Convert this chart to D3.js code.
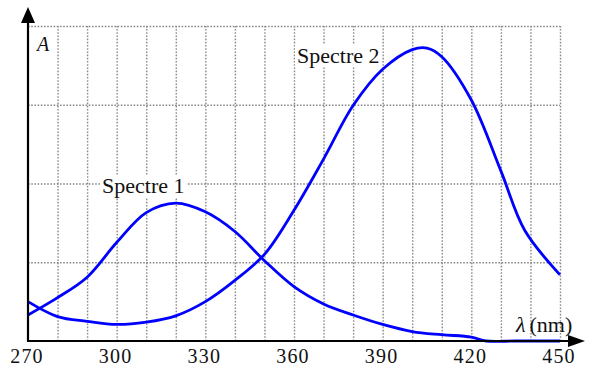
<!DOCTYPE html>
<html>

<head>
  <script src="https://d3js.org/d3.v7.min.js"></script>
  <style>
    body { margin: 0; background: #fff; }
    text { font-family: "Liberation Serif", serif; fill: #111; }
    .grid line { stroke: #8a8a8a; stroke-width: 1.4; stroke-dasharray: 1.6 1.6; }
    .grid path { display: none; }
    .spectre { fill: none; stroke: #0000ff; stroke-width: 2.8; }
  </style>
</head>

<body>
  <script>
    const width = 600;
    const height = 380;

    // longueurs d'onde (nm) et absorbances
    const lambda1 = [270, 280, 290, 300, 310, 320, 330, 340, 350, 360, 370, 380, 390, 400, 410, 420, 425, 435, 450];
    const spectre1 = [0.33, 0.55, 0.81, 1.25, 1.63, 1.75, 1.64, 1.39, 1.02, 0.69, 0.47, 0.33, 0.21, 0.12, 0.08, 0.05, 0, 0, 0];

    const lambda2 = [270, 280, 290, 300, 310, 320, 330, 340, 350, 360, 370, 380, 390, 400, 405, 410, 420, 430, 438, 450];
    const spectre2 = [0.50, 0.31, 0.25, 0.21, 0.24, 0.32, 0.50, 0.77, 1.10, 1.66, 2.31, 2.99, 3.45, 3.70, 3.72, 3.61, 3.06, 2.16, 1.41, 0.84];

    const tickLabels = [270, 300, 330, 360, 390, 420, 450];
    const gridX = d3.range(280, 451, 10);
    const gridY = [1, 2, 3, 4];

    const svg = d3.select("body")
      .append("svg")
      .attr("width", width)
      .attr("height", height);

    const x = d3.scaleLinear().domain([270, 450]).range([28, 560]);
    const y = d3.scaleLinear().domain([0, 4]).range([341, 26]);

    // grille pointillée
    svg.append("g")
      .attr("class", "grid")
      .attr("transform", "translate(0,341)")
      .call(d3.axisBottom(x).tickValues(gridX).tickSize(-(341 - 26)).tickFormat(""));

    svg.append("g")
      .attr("class", "grid")
      .attr("transform", "translate(28,0)")
      .call(d3.axisLeft(y).tickValues(gridY).tickSize(-(560 - 28)).tickFormat(""));

    // courbes
    const line = d3.line().curve(d3.curveCatmullRom.alpha(0.5));

    svg.append("path")
      .attr("class", "spectre")
      .attr("d", line(lambda1.map((l, i) => [x(l), y(spectre1[i])])));

    svg.append("path")
      .attr("class", "spectre")
      .attr("d", line(lambda2.map((l, i) => [x(l), y(spectre2[i])])));

    // axes avec flèches
    svg.append("line")
      .attr("x1", 28).attr("y1", 341).attr("x2", 28).attr("y2", 20)
      .attr("stroke", "#000").attr("stroke-width", 2.2);
    svg.append("path")
      .attr("d", "M28,7 L21,23 L35,23 Z")
      .attr("fill", "#000");

    svg.append("line")
      .attr("x1", 27).attr("y1", 341).attr("x2", 572).attr("y2", 341)
      .attr("stroke", "#000").attr("stroke-width", 2.2);
    svg.append("path")
      .attr("d", "M585,341 L568,335 L568,347 Z")
      .attr("fill", "#000");

    // graduations
    svg.selectAll(".tick-label")
      .data(tickLabels)
      .enter()
      .append("text")
      .attr("class", "tick-label")
      .attr("x", d => x(d) - 1)
      .attr("y", 363)
      .attr("text-anchor", "middle")
      .style("font-size", "20px")
      .style("letter-spacing", "1.2px")
      .text(d => d);

    // étiquettes
    function label(txt, lx, ly) {
      const g = svg.append("g");
      const t = g.append("text")
        .attr("x", lx).attr("y", ly)
        .style("font-size", "22px")
        .text(txt);
      const b = t.node().getBBox();
      g.insert("rect", "text")
        .attr("x", b.x - 2).attr("y", b.y + 2)
        .attr("width", b.width + 4).attr("height", b.height - 3)
        .attr("fill", "#fff");
    }
    label("Spectre 1", 102, 193);
    label("Spectre 2", 297, 63);

    svg.append("text")
      .attr("x", 37).attr("y", 51)
      .style("font-size", "20px")
      .style("font-style", "italic")
      .text("A");

    const lam = svg.append("text")
      .attr("x", 516).attr("y", 332)
      .style("font-size", "22px");
    lam.append("tspan").style("font-style", "italic").text("λ");
    lam.append("tspan").attr("dx", 4).text("(nm)");
  </script>
</body>

</html>
